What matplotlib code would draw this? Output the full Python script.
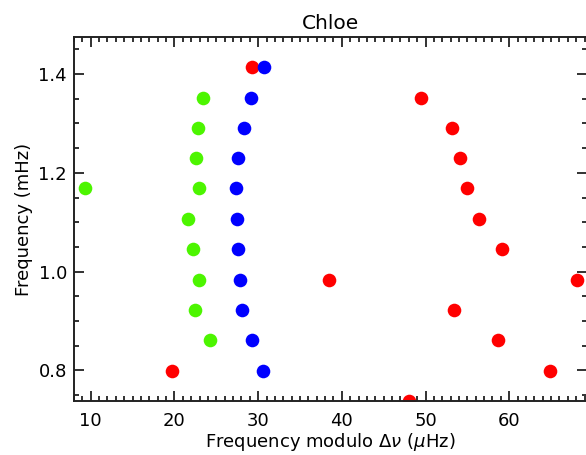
import matplotlib
matplotlib.use("Agg")
import matplotlib.pyplot as plt
from matplotlib.ticker import MultipleLocator

plt.rcParams['font.family'] = ['DejaVu Sans']
plt.rcParams['mathtext.fontset'] = 'dejavusans'

# Echelle diagram: frequency (mHz) against frequency modulo the large separation (μHz)
green_x = [23.45, 22.78, 22.54, 22.93, 9.31, 21.66, 22.18, 22.97, 22.42, 24.21]
green_y = [1.352, 1.2906, 1.2293, 1.1685, 1.1685, 1.1064, 1.045, 0.9834, 0.9221, 0.8607]

blue_x = [30.71, 29.12, 28.28, 27.60, 27.36, 27.48, 27.63, 27.80, 28.08, 29.31, 30.55]
blue_y = [1.4136, 1.352, 1.2906, 1.2293, 1.1685, 1.1064, 1.045, 0.9834, 0.9221, 0.8607, 0.7991]

red_x = [29.31, 49.47, 53.14, 54.14, 54.97, 56.44, 59.16, 68.09, 38.51, 53.42, 58.60,
         64.93, 19.71, 48.07]
red_y = [1.4136, 1.352, 1.2906, 1.2293, 1.1685, 1.1064, 1.045, 0.9834, 0.9834, 0.9221,
         0.8607, 0.7991, 0.7991, 0.7384]

xticks = [10, 20, 30, 40, 50, 60]
yticks = [0.8, 1.0, 1.2, 1.4]

fig = plt.figure(figsize=(5.86, 4.55), dpi=100)
ax = fig.add_axes([0.1263, 0.1187, 0.8755, 0.8])

ms = 9.8
ax.plot(red_x, red_y, 'o', color='#ff0000', ms=ms, mec='none', ls='none')
ax.plot(blue_x, blue_y, 'o', color='#0000ff', ms=ms, mec='none', ls='none')
ax.plot(green_x, green_y, 'o', color='#4cf500', ms=ms, mec='none', ls='none')

ax.set_xlim(8, 69.3)
ax.set_ylim(0.738, 1.475)
ax.set_xticks(xticks)
ax.set_yticks(yticks)
ax.set_yticklabels([f"{v:.1f}" for v in yticks])
ax.xaxis.set_minor_locator(MultipleLocator(1))
ax.yaxis.set_minor_locator(MultipleLocator(0.05))

ax.tick_params(which='both', direction='in', top=True, right=True, width=1.3,
               labelsize=13, color='#222222')
ax.tick_params(which='major', length=7)
ax.tick_params(which='minor', length=3.5)
ax.tick_params(axis='x', pad=8)
ax.tick_params(axis='y', pad=5)
for side in ['left', 'bottom', 'top']:
    ax.spines[side].set_linewidth(1.4)
    ax.spines[side].set_color('#222222')
ax.spines['right'].set_visible(False)

ax.set_title('Chloe', fontsize=14.5, pad=6)
ax.set_xlabel(r'Frequency modulo $\Delta\nu$ ($\mu$Hz)', fontsize=13, labelpad=1)
ax.set_ylabel('Frequency (mHz)', fontsize=13, labelpad=4)

fig.savefig('out.png', dpi=100)
